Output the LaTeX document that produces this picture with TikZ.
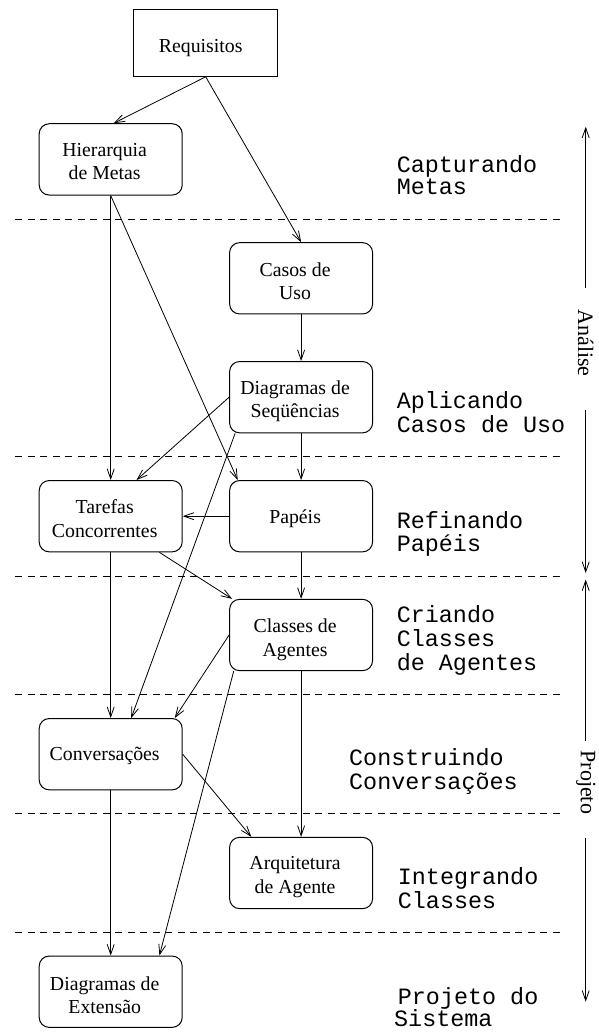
\documentclass[tikz,border=0pt]{standalone}
\usepackage{fontspec}
\setmainfont{Liberation Serif}
\newfontfamily\phasefont{Liberation Mono}
\usetikzlibrary{arrows.meta}
\begin{document}
\begin{tikzpicture}[x=1pt,y=-1pt,
  box/.style={draw, line width=1pt, rounded corners=10pt, minimum width=143pt, minimum height=71.3pt, inner sep=0pt},
  sqbox/.style={draw, line width=1pt, minimum width=143.8pt, minimum height=67pt, inner sep=0pt},
  lbl/.style={font=\fontsize{19.8}{23.3}\selectfont, align=center, inner sep=0pt},
  conn/.style={line width=0.8pt, -{Straight Barb[length=10pt,width=7pt]}},
  sepline/.style={line width=0.8pt, dash pattern=on 7pt off 5.5pt},
  phase/.style={font=\phasefont\fontsize{23.4}{23}\selectfont, anchor=base west, inner sep=0pt},
  side/.style={font=\fontsize{22}{26}\selectfont, rotate=-90, inner sep=0pt}]

\fill[white] (0,0) rectangle (598,1032);
\useasboundingbox (0,0) rectangle (598,1032);

% separators
\foreach \yy in {219,456.7,576,694.3,813.3,932.3}
  \draw[sepline] (15.3,\yy) -- (564,\yy);

% boxes
\node[sqbox] (req)   at (205.7,42.8) {};
\node[box]   (hier)  at (110.7,159.4) {};
\node[box]   (casos) at (301.1,278.3) {};
\node[box]   (dseq)  at (301.1,397.2) {};
\node[box]   (taref) at (110.7,516.2) {};
\node[box]   (pap)   at (301.1,516.2) {};
\node[box]   (cls)   at (301.1,635) {};
\node[box]   (conv)  at (110.7,754.2) {};
\node[box]   (arq)   at (301.1,873) {};
\node[box]   (dext)  at (110.7,991.7) {};

% box texts
\node[lbl] (reqt)   at ([xshift=-5pt,yshift=-5.3pt]req.center) {Requisitos};
\node[lbl] (hiert)  at ([xshift=-6pt,yshift=-2.2pt]hier.center) {Hierarquia\\de Metas};
\node[lbl] (casost) at ([xshift=-6pt,yshift=-2.6pt]casos.center) {Casos de\\Uso};
\node[lbl] (dseqt)  at ([xshift=-6pt,yshift=-4pt]dseq.center) {Diagramas de\\Seqüências};
\node[lbl] (tareft) at ([xshift=-6pt,yshift=-2.3pt]taref.center) {Tarefas\\Concorrentes};
\node[lbl] (papt)   at ([xshift=-6pt,yshift=-2.7pt]pap.center) {Papéis};
\node[lbl] (clst)   at ([xshift=-6pt,yshift=-4.7pt]cls.center) {Classes de\\Agentes};
\node[lbl] (convt)  at ([xshift=-6pt,yshift=-1.4pt]conv.center) {Conversações};
\node[lbl] (arqt)   at ([xshift=-6pt,yshift=-4pt]arq.center) {Arquitetura\\de Agente};
\node[lbl] (dextt)  at ([xshift=-6pt,yshift=-3.7pt]dext.center) {Diagramas de\\Extensão};

% connectors
\draw[conn] (req.south) -- ([xshift=3pt]hier.north);
\draw[conn] (req.south) -- (casos.north);
\draw[conn] (hier.south) -- (taref.north);
\draw[conn] (hier.south) -- ([xshift=8.6pt]pap.north west);
\draw[conn] (casos.south) -- (dseq.north);
\draw[conn] (dseq.west) -- ([xshift=25.8pt]taref.north);
\draw[conn] ([xshift=6pt]dseq.south west) -- ([xshift=20.5pt]conv.north);
\draw[conn] (dseq.south) -- (pap.north);
\draw[conn] (pap.west) -- (taref.east);
\draw[conn] ([xshift=-23.3pt]taref.south east) -- ([xshift=3pt]cls.north west);
\draw[conn] (taref.south) -- (conv.north);
\draw[conn] (pap.south) -- (cls.north);
\draw[conn] (cls.west) -- ([xshift=-8pt]conv.north east);
\draw[conn] ([xshift=4.6pt]cls.south west) -- ([xshift=-23.3pt]dext.north east);
\draw[conn] (cls.south) -- (arq.north);
\draw[conn] (conv.east) -- ([xshift=22.2pt]arq.north west);
\draw[conn] (conv.south) -- (dext.north);

% phase labels
\node[phase] (ph1a) at (396.6,172.5) {Capturando};
\node[phase] (ph1b) at (396.6,195) {Metas};
\node[phase] (ph2a) at (396.6,408.3) {Aplicando};
\node[phase] (ph2b) at (396.6,432.3) {Casos de Uso};
\node[phase] (ph3a) at (396.6,528.3) {Refinando};
\node[phase] (ph3b) at (396.6,551.7) {Papéis};
\node[phase] (ph4a) at (396.6,622.3) {Criando};
\node[phase] (ph4b) at (396.6,646) {Classes};
\node[phase] (ph4c) at (396.6,670) {de Agentes};
\node[phase] (ph5a) at (349,765) {Construindo};
\node[phase] (ph5b) at (349,789.3) {Conversações};
\node[phase] (ph6a) at (397.7,884) {Integrando};
\node[phase] (ph6b) at (397.7,908.3) {Classes};
\node[phase] (ph7a) at (397.7,1004) {Projeto do};
\node[phase] (ph7b) at (394,1026.7) {Sistema};

% side arrows
\coordinate (a1) at (585.7,126.7);
\coordinate (a2) at (585.7,288.3);
\node[side] (anal) at (585.7,343) {Análise};
\coordinate (a3) at (585.7,410);
\coordinate (a4) at (585.7,573);
\draw[conn] (a2) -- (a1);
\draw[conn] (a3) -- (a4);

\coordinate (p1) at (585.7,579.5);
\coordinate (p2) at (585.7,741);
\node[side] (proj) at (585.7,782.3) {Projeto};
\coordinate (p3) at (585.7,838);
\coordinate (p4) at (585.7,1001.7);
\draw[conn] (p2) -- (p1);
\draw[conn] (p3) -- (p4);
\end{tikzpicture}
\end{document}
